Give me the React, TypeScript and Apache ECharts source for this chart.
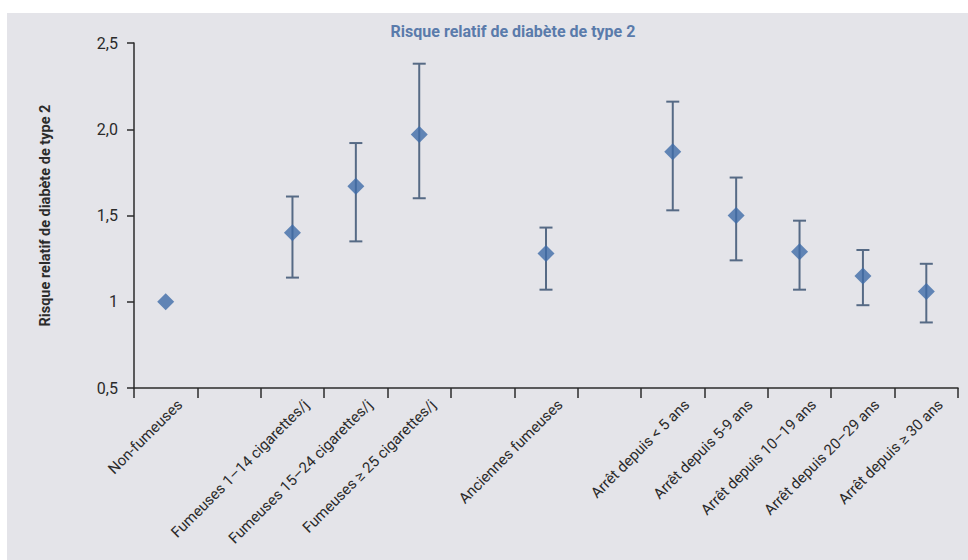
import React, { useEffect, useRef } from "react";
import * as echarts from "echarts";

// Slots along the x axis; empty strings leave a blank slot between groups.
const categories = [
  "Non-fumeuses",
  "",
  "Fumeuses 1–14 cigarettes/j",
  "Fumeuses 15–24 cigarettes/j",
  "Fumeuses ≥ 25 cigarettes/j",
  "",
  "Anciennes fumeuses",
  "",
  "Arrêt depuis < 5 ans",
  "Arrêt depuis 5-9 ans",
  "Arrêt depuis 10–19 ans",
  "Arrêt depuis 20–29 ans",
  "Arrêt depuis ≥ 30 ans",
];

// Relative risk point estimates and 95% confidence bounds per slot.
const relativeRisk = [1.0, null, 1.4, 1.67, 1.97, null, 1.28, null, 1.87, 1.5, 1.29, 1.15, 1.06];
const ciLow = [null, null, 1.14, 1.35, 1.6, null, 1.07, null, 1.53, 1.24, 1.07, 0.98, 0.88];
const ciHigh = [null, null, 1.61, 1.92, 2.38, null, 1.43, null, 2.16, 1.72, 1.47, 1.3, 1.22];

const yTicks = [0.5, 1, 1.5, 2, 2.5];

const FONT = "Roboto, 'Liberation Sans', sans-serif";
const INK = "#2b2b2b";
const MARKER = "#3e6ca7";
const BAR = "#566a85";

export default function App() {
  const ref = useRef<HTMLDivElement>(null);

  useEffect(() => {
    if (!ref.current) return;
    const chart = echarts.init(ref.current, undefined, { renderer: "svg" });

    const points = relativeRisk
      .map((v, i) => (v == null ? null : [i, v]))
      .filter((d) => d !== null);
    const bars = ciLow
      .map((lo, i) => (lo == null || ciHigh[i] == null ? null : [i, lo, ciHigh[i]]))
      .filter((d) => d !== null);

    chart.setOption({
      animation: false,
      backgroundColor: "#e4e4e9",
      textStyle: { fontFamily: FONT },
      title: {
        text: "Risque relatif de diabète de type 2",
        left: 508,
        top: 18,
        textAlign: "center",
        textStyle: { fontFamily: FONT, fontSize: 16, fontWeight: "bold", color: "#5a7bab" },
      },
      graphic: [
        { type: "rect", shape: { x: 0, y: 0, width: 968, height: 13 }, style: { fill: "#ffffff" }, silent: true },
        { type: "rect", shape: { x: 0, y: 0, width: 7, height: 560 }, style: { fill: "#ffffff" }, silent: true },
      ],
      grid: { left: 134, right: 10, top: 43, bottom: 172, outerBoundsMode: "none", containLabel: false },
      xAxis: {
        type: "category",
        data: categories,
        boundaryGap: true,
        axisLine: { lineStyle: { color: INK, width: 1.5 } },
        axisTick: { show: true, interval: 0, length: 10, lineStyle: { color: INK, width: 1.5 } },
        axisLabel: {
          interval: 0,
          rotate: 45,
          align: "right",
          verticalAlign: "top",
          lineHeight: 40,
          margin: 0,
          fontSize: 15,
          color: INK,
          fontFamily: FONT,
        },
        splitLine: { show: false },
      },
      yAxis: {
        type: "value",
        min: yTicks[0],
        max: yTicks[yTicks.length - 1],
        interval: 0.5,
        name: "Risque relatif de diabète de type 2",
        nameLocation: "middle",
        nameGap: 81,
        nameTextStyle: { fontFamily: FONT, fontSize: 14.5, fontWeight: "bold", color: INK },
        axisLine: { show: true, lineStyle: { color: INK, width: 1.5 } },
        axisTick: { show: true, length: 7, lineStyle: { color: INK, width: 1.5 } },
        axisLabel: {
          fontSize: 16,
          color: INK,
          margin: 16,
          fontFamily: FONT,
          formatter: (v: number) => (v === 1 ? "1" : v.toFixed(1).replace(".", ",")),
        },
        splitLine: { show: false },
      },
      series: [
        {
          type: "custom",
          name: "IC 95 %",
          data: bars,
          z: 2,
          renderItem: (params: any, api: any) => {
            const x = api.value(0);
            const lo = api.coord([x, api.value(1)]);
            const hi = api.coord([x, api.value(2)]);
            const half = 6.5;
            const style = { stroke: BAR, lineWidth: 2 };
            return {
              type: "group",
              children: [
                { type: "line", shape: { x1: lo[0], y1: lo[1], x2: hi[0], y2: hi[1] }, style },
                { type: "line", shape: { x1: hi[0] - half, y1: hi[1], x2: hi[0] + half, y2: hi[1] }, style },
                { type: "line", shape: { x1: lo[0] - half, y1: lo[1], x2: lo[0] + half, y2: lo[1] }, style },
              ],
            };
          },
        },
        {
          type: "scatter",
          name: "Risque relatif",
          data: points,
          symbol: "diamond",
          symbolSize: 17,
          z: 3,
          itemStyle: { color: MARKER },
        },
      ],
    });

    return () => chart.dispose();
  }, []);

  return (
    <div
      ref={ref}
      style={{ position: "fixed", left: 0, top: 0, width: 968, height: 560 }}
    />
  );
}
